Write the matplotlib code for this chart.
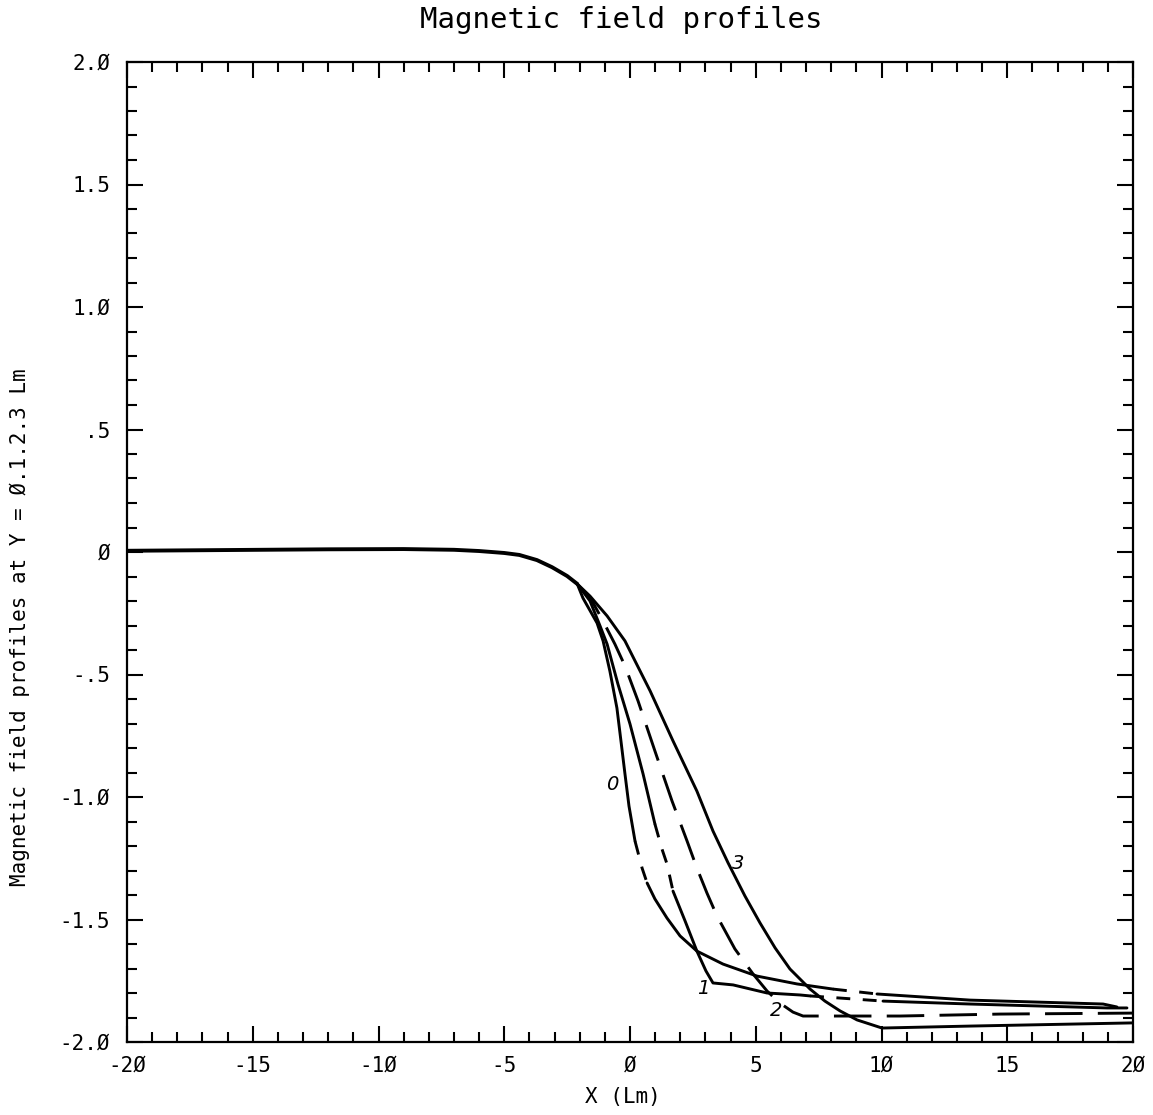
import numpy as np
import matplotlib
matplotlib.use("Agg")
import matplotlib.pyplot as plt
from matplotlib.ticker import MultipleLocator

# ---- data: Bz profiles along X at Y = 0, 1, 2, 3 Lm -------------------------
# far-field part, common to all four profiles
x_common = [-20.0, -16.0, -12.0, -9.0, -7.0, -6.0, -5.0, -4.4, -3.7, -3.1, -2.5, -2.1]
b_common = [0.005, 0.008, 0.011, 0.012, 0.009, 0.004, -0.004, -0.012, -0.033, -0.062, -0.098, -0.13]

# Y = 0
x_y0 = [-1.87, -1.31, -1.07, -0.80, -0.52, -0.36, -0.20, -0.04, 0.20, 0.48, 0.68,
        0.99, 1.47, 1.99, 2.66, 3.70, 5.05, 6.64, 8.07, 9.82, 13.52, 18.81, 19.36]
b_y0 = [-0.188, -0.29, -0.363, -0.486, -0.637, -0.771, -0.906, -1.037, -1.18, -1.29, -1.351,
        -1.416, -1.494, -1.567, -1.629, -1.682, -1.731, -1.763, -1.784, -1.804, -1.829, -1.845, -1.857]
# Y = 1
x_y1 = [-1.59, -1.19, -0.91, -0.48, 0.0, 0.52, 0.99, 1.27, 1.47, 1.71, 2.19, 2.66,
        3.02, 3.30, 4.10, 5.45, 6.76, 7.16, 10.06, 13.52, 18.97, 19.76]
b_y1 = [-0.20, -0.302, -0.376, -0.539, -0.702, -0.906, -1.11, -1.212, -1.273, -1.384, -1.506, -1.629,
        -1.71, -1.759, -1.767, -1.80, -1.808, -1.812, -1.833, -1.845, -1.861, -1.861]
# Y = 2
x_y2 = [-1.51, -1.07, -0.60, -0.20, 0.32, 0.99, 1.67, 2.27, 2.66, 3.06, 3.46, 4.17,
        4.89, 5.45, 5.96, 6.48, 6.88, 10.74, 14.71, 20.0]
b_y2 = [-0.20, -0.282, -0.376, -0.465, -0.608, -0.812, -1.016, -1.18, -1.29, -1.392, -1.486, -1.62,
        -1.722, -1.792, -1.841, -1.878, -1.894, -1.894, -1.886, -1.882]
# Y = 3
x_y3 = [-1.59, -0.91, -0.20, 0.80, 1.71, 2.66, 3.30, 3.90, 4.57, 5.17, 5.77, 6.36,
        7.16, 7.75, 8.35, 9.03, 10.02, 13.52, 20.0]
b_y3 = [-0.18, -0.261, -0.363, -0.567, -0.771, -0.976, -1.139, -1.269, -1.404, -1.514, -1.616, -1.702,
        -1.784, -1.833, -1.873, -1.910, -1.943, -1.935, -1.922]

# X positions where a profile alternates between solid and dashed (starting solid)
switch_y0 = [0.20, 0.68, 8.07, 9.82]
switch_y1 = [0.99, 1.71, 7.16, 10.06]

# curve labels: text, x, b
curve_labels = [("0", -0.70, -0.95), ("1", 2.90, -1.78), ("2", 5.80, -1.87), ("3", 4.30, -1.27)]

x_ticks = [-20, -15, -10, -5, 0, 5, 10, 15, 20]
x_ticklabels = ["-2Ø", "-15", "-1Ø", "-5", "Ø", "5", "1Ø", "15", "2Ø"]
y_ticks = [-2.0, -1.5, -1.0, -0.5, 0.0, 0.5, 1.0, 1.5, 2.0]
y_ticklabels = ["-2.Ø", "-1.5", "-1.Ø", "-.5", "Ø", ".5", "1.Ø", "1.5", "2.Ø"]

# ---- drawing ---------------------------------------------------------------
plt.rcParams["lines.scale_dashes"] = False
MONO = "DejaVu Sans Mono"
LW = 2.1
SHORT = (0, (10, 9))
LONG = (0, (27, 11))

fig = plt.figure(figsize=(11.53, 11.15), dpi=100)
ax = fig.add_axes([127 / 1153, 1 - 1042 / 1115, (1133 - 127) / 1153, (1042 - 62) / 1115])


def draw_switching(xs, bs, switches, dash):
    xs = np.asarray(xs)
    bs = np.asarray(bs)
    cuts = [0] + [int(np.argmin(np.abs(xs - s))) for s in switches] + [len(xs) - 1]
    solid = True
    for a, b in zip(cuts[:-1], cuts[1:]):
        ax.plot(xs[a:b + 1], bs[a:b + 1], color="black", lw=LW,
                linestyle="-" if solid else dash, solid_capstyle="round",
                solid_joinstyle="round", dash_capstyle="butt")
        solid = not solid


# common far-field trunk
ax.plot(x_common, b_common, color="black", lw=LW + 0.7, solid_capstyle="round",
        solid_joinstyle="round")

join_x = [x_common[-1]]
join_b = [b_common[-1]]
draw_switching(join_x + x_y0, join_b + b_y0, switch_y0, SHORT)
draw_switching(join_x + x_y1, join_b + b_y1, switch_y1, SHORT)
ax.plot(join_x + x_y2, join_b + b_y2, color="black", lw=LW, linestyle=LONG,
        dash_capstyle="butt", dash_joinstyle="round")
ax.plot(join_x + x_y3, join_b + b_y3, color="black", lw=LW, solid_capstyle="round",
        solid_joinstyle="round")

for txt, lx, lb in curve_labels:
    ax.text(lx, lb, txt, fontsize=14, family="DejaVu Sans", style="italic",
            ha="center", va="center", color="black")

ax.set_xlim(-20, 20)
ax.set_ylim(-2, 2)
ax.set_xticks(x_ticks)
ax.set_xticklabels(x_ticklabels, family=MONO, fontsize=15)
ax.set_yticks(y_ticks)
ax.set_yticklabels(y_ticklabels, family=MONO, fontsize=15)
ax.xaxis.set_minor_locator(MultipleLocator(1))
ax.yaxis.set_minor_locator(MultipleLocator(0.1))
ax.tick_params(which="both", direction="in", top=True, right=True, width=1.5, color="black")
ax.tick_params(which="major", length=11.5)
ax.tick_params(which="minor", length=7)
ax.tick_params(axis="x", which="major", pad=10)
ax.tick_params(axis="y", which="major", pad=12)
for sp in ax.spines.values():
    sp.set_linewidth(1.6)

fig.text(621 / 1153, 1 - 20 / 1115, "Magnetic field profiles", family=MONO, fontsize=21,
         ha="center", va="center")
fig.text(623 / 1153, 1 - 1097 / 1115, "X (Lm)", family=MONO, fontsize=15,
         ha="center", va="center")
fig.text(20 / 1153, 1 - 627 / 1115, "Magnetic field profiles at Y = Ø.1.2.3 Lm", family=MONO,
         fontsize=15, rotation=90, ha="center", va="center")

fig.savefig("out.png", dpi=100, facecolor="white")
